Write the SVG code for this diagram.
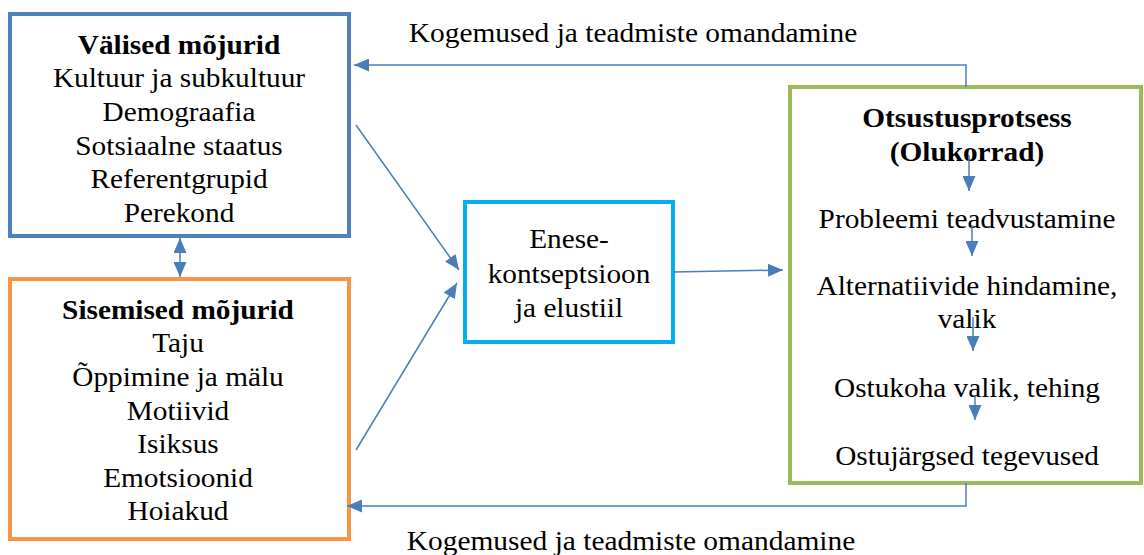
<svg xmlns="http://www.w3.org/2000/svg" width="1144" height="555" viewBox="0 0 1144 555">
<style>
text{font-family:"Liberation Serif","Times New Roman",serif;font-size:27px;fill:#000;text-anchor:middle}
.b{font-weight:bold}
.box{fill:#fff;stroke-width:4}
.c{stroke:#4a7ebb;stroke-width:1.5;fill:none}
</style>
<defs>
<marker id="ah" markerUnits="userSpaceOnUse" markerWidth="15" markerHeight="13" refX="15" refY="6.5" orient="auto-start-reverse">
<path d="M0,0 L15,6.5 L0,13 Z" fill="#4a7ebb"/>
</marker>
</defs>
<rect width="1144" height="555" fill="#fff"/>
<g id="valised">
<rect class="box" x="10" y="14" width="339" height="222" stroke="#4f81bd"/>
<g transform="translate(179,0) scale(1.085,1)">
<text class="b" x="0" y="54">Välised mõjurid</text>
<text x="0" y="87">Kultuur ja subkultuur</text>
<text x="0" y="121">Demograafia</text>
<text x="0" y="155">Sotsiaalne staatus</text>
<text x="0" y="188">Referentgrupid</text>
<text x="0" y="222">Perekond</text>
</g>
</g>
<g id="sisemised">
<rect class="box" x="10" y="279" width="339" height="260" stroke="#f79646"/>
<g transform="translate(178,0) scale(1.085,1)">
<text class="b" x="0" y="319">Sisemised mõjurid</text>
<text x="0" y="352">Taju</text>
<text x="0" y="386">Õppimine ja mälu</text>
<text x="0" y="420">Motiivid</text>
<text x="0" y="453">Isiksus</text>
<text x="0" y="487">Emotsioonid</text>
<text x="0" y="520">Hoiakud</text>
</g>
</g>
<g id="enese">
<rect class="box" x="465" y="202" width="208" height="140" stroke="#00b0f0"/>
<g transform="translate(569,0) scale(1.085,1)">
<text x="0" y="248">Enese-</text>
<text x="0" y="283">kontseptsioon</text>
<text x="0" y="317">ja elustiil</text>
</g>
</g>
<g id="otsustus">
<rect class="box" x="790" y="87" width="351" height="396" stroke="#9bbb59"/>
<g transform="translate(967,0) scale(1.085,1)">
<text class="b" x="0" y="127">Otsustusprotsess</text>
<text class="b" x="0" y="161">(Olukorrad)</text>
<text x="0" y="228">Probleemi teadvustamine</text>
<text x="0" y="295">Alternatiivide hindamine,</text>
<text x="0" y="328">valik</text>
<text x="0" y="397">Ostukoha valik, tehing</text>
<text x="0" y="465">Ostujärgsed tegevused</text>
</g>
</g>
<g id="labels">
<g transform="translate(633,0) scale(1.09,1)">
<text x="0" y="42">Kogemused ja teadmiste omandamine</text>
</g>
<g transform="translate(631,0) scale(1.09,1)">
<text x="0" y="550">Kogemused ja teadmiste omandamine</text>
</g>
</g>
<g id="connectors">
<path class="c" d="M966,87 V65 H354" marker-end="url(#ah)"/>
<path class="c" d="M966,483 V506 H347" marker-end="url(#ah)"/>
<path class="c" d="M180,238 V277" marker-start="url(#ah)" marker-end="url(#ah)"/>
<path class="c" d="M356,125 L459,270" marker-end="url(#ah)"/>
<path class="c" d="M356,450 L457,283" marker-end="url(#ah)"/>
<path class="c" d="M673,272 L783,270" marker-end="url(#ah)"/>
<path class="c" d="M969,155 V191" marker-end="url(#ah)"/>
<path class="c" d="M972,225 V256" marker-end="url(#ah)"/>
<path class="c" d="M973,317 V351" marker-end="url(#ah)"/>
<path class="c" d="M975,395 V420" marker-end="url(#ah)"/>
</g>
</svg>
